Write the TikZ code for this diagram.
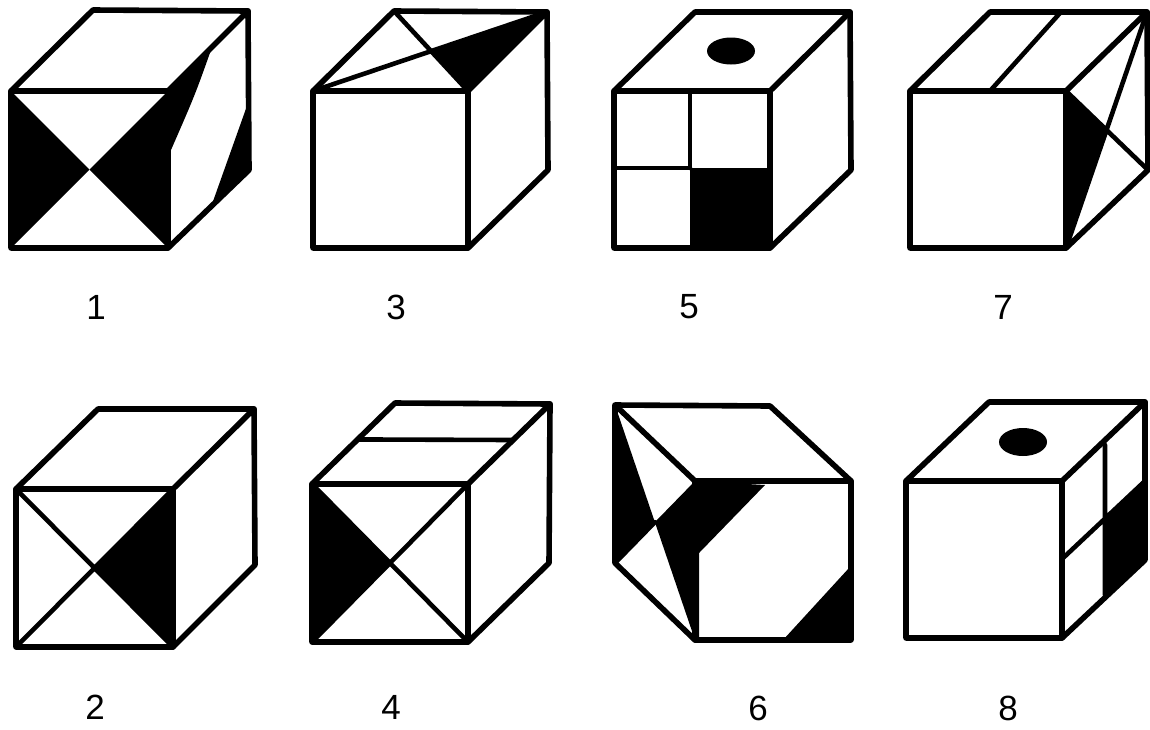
\documentclass[tikz,border=0pt]{standalone}
\usepackage{fontspec}
\setmainfont{Liberation Sans}
\usetikzlibrary{calc,shapes.geometric}
\tikzset{
  x=1pt, y=-1pt,
  edge line/.style={draw, line width=5.6pt, line join=round, line cap=round},
  thin line/.style={draw, line width=4.6pt, line cap=round},
  shade part/.style={fill=black},
  num label/.style={font=\fontsize{35}{35}\selectfont, inner sep=0pt},
}
% front corners A B C D, back corners E F G
\newcommand{\cubepts}[8]{
  \coordinate (#1A) at (#2);
  \coordinate (#1B) at (#3);
  \coordinate (#1C) at (#4);
  \coordinate (#1D) at (#5);
  \coordinate (#1E) at (#6);
  \coordinate (#1F) at (#7);
  \coordinate (#1G) at (#8);
  \coordinate (#1M) at ($(#1A)!0.5!(#1C)$);
  \coordinate (#1T) at ($(#1A)!0.5!(#1F)$);
}
\newcommand{\cubeframe}[1]{
  \path[edge line] (#1A) -- (#1E) -- (#1F) -- (#1G) -- (#1C) -- (#1D) -- cycle;
  \path[edge line] (#1A) -- (#1B) -- (#1C) (#1B) -- (#1F);
}
\begin{document}
\begin{tikzpicture}
  \useasboundingbox (0,0) rectangle (1150,729);
  \cubepts{one}{11,91}{168,91}{168,248}{11,248}{93,10}{248,11}{249,170}
  \cubepts{two}{16,489}{173,489}{173,647}{16,647}{98,409}{254,409}{255,565}
  \cubepts{three}{313,91}{468,91}{468,248}{313,248}{394,11}{547,12}{548,170}
  \cubepts{four}{312,484}{468,484}{468,642}{312,642}{395,403}{550,404}{549,563}
  \cubepts{five}{614,91}{770,91}{770,248}{614,248}{695,12}{850,12}{851,170}
  \cubepts{seven}{910,91}{1066,91}{1066,248}{910,248}{990,12}{1147,12}{1148,170}
  \cubepts{eight}{906,481}{1062,481}{1062,638}{906,638}{989,402}{1145,402}{1145,560}

  % cube 1
  \fill[shade part] (oneA) -- (oneM) -- (oneD) -- cycle;
  \fill[shade part] (oneB) -- (211,50) .. controls (195,95) .. (171,150) -- (168,248) -- (oneM) -- cycle;
  \fill[shade part] (248,103) -- (oneG) -- (211,207) -- cycle;
  \cubeframe{one}

  % cube 2
  \fill[shade part] (twoB) -- (twoM) -- (twoC) -- cycle;
  \cubeframe{two}
  \path[thin line] (twoA) -- (twoC) (twoB) -- (twoD);

  % cube 3
  \fill[shade part] (threeT) -- (threeF) -- (threeB) -- cycle;
  \cubeframe{three}
  \path[thin line] (threeE) -- (threeB) (threeA) -- (threeF);

  % cube 4
  \fill[shade part] (fourA) -- (fourM) -- (fourD) -- cycle;
  \cubeframe{four}
  \path[thin line] (fourA) -- (fourC) (fourB) -- (fourD);
  \path[thin line] ($(fourA)!0.55!(fourE)$) -- ($(fourB)!0.55!(fourF)$);

  % cube 5
  \fill[shade part] (690,168) rectangle (fiveC);
  \cubeframe{five}
  \path[thin line] (690,91) -- (690,168) (614,168) -- (690,168);
  \node[shade part, ellipse, minimum width=48pt, minimum height=27pt, inner sep=0pt] (holefive) at (731,51) {};

  % cube 6
  \coordinate (sixE) at (615,405);
  \coordinate (sixF) at (770,406);
  \coordinate (sixH) at (851,481);
  \coordinate (sixA) at (695,481);
  \coordinate (sixC) at (851,640);
  \coordinate (sixD) at (695,640);
  \coordinate (sixG) at (615,563);
  \coordinate (sixM) at (intersection of sixE--sixD and sixA--sixG);
  \fill[shade part] (sixE) -- (sixM) -- (sixG) -- cycle;
  \fill[shade part] (sixM) -- (sixA) -- (765,485) -- (699,553) -- (699,640) -- (sixD) -- cycle;
  \fill[shade part] (849,568) -- (sixC) -- (783,640) -- cycle;
  \path[edge line] (sixA) -- (sixE) -- (sixF) -- (sixH) -- (sixC) -- (sixD) -- (sixG) -- (sixE);
  \path[edge line] (sixA) -- (sixH) (sixA) -- (sixD);
  \path[thin line] (sixM) -- (sixG);

  % cube 7
  \fill[shade part] (sevenB) -- (1108,132) -- (sevenC) -- cycle;
  \cubeframe{seven}
  \path[thin line] (sevenB) -- (sevenG) (sevenC) -- (sevenF);
  \path[thin line] (1060,13) -- (990,91);

  % cube 8
  \fill[shade part] (1105,518) -- (1145,478) -- (eightG) -- (1105,595) -- cycle;
  \cubeframe{eight}
  \path[thin line] (1105,445) -- (1105,595) (1062,559) -- (1145,481);
  \node[shade part, ellipse, minimum width=48pt, minimum height=28pt, inner sep=0pt] (holeeight) at (1023,442) {};

  \node[num label] (labone) at (96,307) {1};
  \node[num label] (labthree) at (396,307) {3};
  \node[num label] (labfive) at (689,307) {5};
  \node[num label] (labseven) at (1003,307) {7};
  \node[num label] (labtwo) at (95,707) {2};
  \node[num label] (labfour) at (391,707) {4};
  \node[num label] (labsix) at (758,708) {6};
  \node[num label] (labeight) at (1008,708) {8};
\end{tikzpicture}
\end{document}
